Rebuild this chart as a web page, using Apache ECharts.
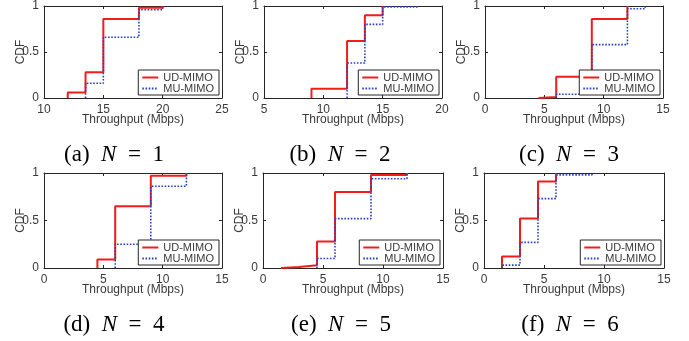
<!DOCTYPE html>
<html>
<head>
<meta charset="utf-8">
<script src="https://cdn.jsdelivr.net/npm/echarts@6/dist/echarts.min.js"></script>
<style>html,body{margin:0;padding:0;background:#fff;}#c{width:689px;height:341px;}</style>
</head>
<body>
<div id="c"></div>
<script>
// ---- data (breakpoints of the empirical CDFs) ----
const panelLabels = ['a', 'b', 'c', 'd', 'e', 'f'];
const panelN = [1, 2, 3, 4, 5, 6];
const xMins = [10, 5, 0, 0, 0, 0];
const xMaxs = [25, 20, 15, 15, 15, 15];
const xInterval = 5;
const yTicks = [0, 0.5, 1];

const udX = [
  [12, 13.5, 15, 18, 20],
  [9, 12, 13.5, 15],
  [4.5, 6, 9, 12],
  [4.5, 6, 9, 12],
  [1.5, 3, 4.5, 6, 9, 12],
  [1.5, 3, 4.5, 6]
];
const udY = [
  [0.06, 0.28, 0.86, 0.98, 1.0],
  [0.10, 0.62, 0.90, 1.0],
  [0.01, 0.23, 0.86, 1.0],
  [0.09, 0.65, 0.97, 1.0],
  [0.01, 0.03, 0.28, 0.80, 0.98, 1.0],
  [0.12, 0.52, 0.91, 1.0]
];
const muX = [
  [13.5, 15, 18, 20],
  [12, 13.5, 15, 18],
  [6, 9, 12, 13.5],
  [6, 9, 12],
  [4.5, 6, 9, 12],
  [1.5, 3, 4.5, 6, 9]
];
const muY = [
  [0.16, 0.66, 0.96, 1.0],
  [0.38, 0.80, 0.99, 1.0],
  [0.04, 0.58, 0.97, 1.0],
  [0.25, 0.86, 1.0],
  [0.10, 0.52, 0.94, 1.0],
  [0.03, 0.27, 0.73, 0.98, 1.0]
];

// ---- layout ----
const W = 689, H = 341;
const grids = [
  {left: 44, top: 3, width: 178, height: 95},
  {left: 264, top: 3, width: 178, height: 95},
  {left: 485, top: 3, width: 178, height: 95},
  {left: 44, top: 173, width: 178, height: 95},
  {left: 263, top: 173, width: 180, height: 95},
  {left: 484, top: 173, width: 180, height: 95}
];
const captionX = [114, 340, 569, 114, 341, 570];
const captionTop = [143, 143, 143, 313, 313, 313];

const AX = '#262626';
const TX = '#3a3a3a';
const RED = '#f21c1c';
const BLUE = '#2443c4';
const SANS = 'Liberation Sans, Arial, sans-serif';
const SERIF = 'Liberation Serif, Times New Roman, serif';

function stairs(xs, ys) {
  const pts = [];
  let prev = 0;
  for (let i = 0; i < xs.length; i++) {
    pts.push([xs[i], prev]);
    pts.push([xs[i], ys[i]]);
    prev = ys[i];
  }
  return pts;
}

const xAxes = [], yAxes = [], series = [], legends = [], titles = [];
grids.forEach((g, i) => {
  const common = {
    gridIndex: i,
    axisLine: {show: true, onZero: false, lineStyle: {color: AX, width: 1}},
    axisTick: {show: true, inside: true, length: 3, lineStyle: {color: AX}},
    splitLine: {show: false}
  };
  xAxes.push(Object.assign({}, common, {
    type: 'value', position: 'bottom', min: xMins[i], max: xMaxs[i], interval: xInterval,
    name: 'Throughput (Mbps)', nameLocation: 'middle', nameGap: 16, nameMoveOverlap: false,
    nameTextStyle: {fontFamily: SANS, fontSize: 12, color: TX},
    axisLabel: {show: true, margin: 6, fontFamily: SANS, fontSize: 12, color: TX}
  }));
  xAxes.push(Object.assign({}, common, {
    type: 'value', position: 'top', min: xMins[i], max: xMaxs[i], interval: xInterval,
    axisLabel: {show: false}
  }));
  yAxes.push(Object.assign({}, common, {
    type: 'value', position: 'left', min: yTicks[0], max: yTicks[yTicks.length - 1], interval: yTicks[1] - yTicks[0],
    name: 'CDF', nameLocation: 'middle', nameGap: 17, nameMoveOverlap: false,
    nameTextStyle: {fontFamily: SANS, fontSize: 12, color: TX},
    axisLabel: {show: true, margin: 5, fontFamily: SANS, fontSize: 12, color: TX}
  }));
  yAxes.push(Object.assign({}, common, {
    type: 'value', position: 'right', min: yTicks[0], max: yTicks[yTicks.length - 1], interval: yTicks[1] - yTicks[0],
    axisLabel: {show: false}
  }));
  series.push({
    name: 'UD-MIMO', type: 'line', xAxisIndex: 2 * i, yAxisIndex: 2 * i,
    data: stairs(udX[i], udY[i]), symbol: 'none', clip: false,
    lineStyle: {color: RED, width: 2}, itemStyle: {color: RED}, z: 3,
    animation: false
  });
  series.push({
    name: 'MU-MIMO', type: 'line', xAxisIndex: 2 * i, yAxisIndex: 2 * i,
    data: stairs(muX[i], muY[i]), symbol: 'none', clip: false,
    lineStyle: {color: BLUE, width: 1.6, type: [1.6, 1.6]}, itemStyle: {color: BLUE}, z: 4,
    animation: false
  });
  legends.push({
    data: ['UD-MIMO', 'MU-MIMO'],
    orient: 'vertical',
    right: W - (g.left + g.width) + 3,
    bottom: H - (g.top + g.height) + 3,
    itemWidth: 16, itemHeight: 12, itemGap: 0,
    padding: [2, 5, 1, 3],
    backgroundColor: '#fff', borderColor: AX, borderWidth: 1,
    selectedMode: false,
    itemStyle: {opacity: 0},
    textStyle: {fontFamily: SANS, fontSize: 11, color: TX},
    z: 10
  });
  titles.push({
    text: '(' + panelLabels[i] + ')  {n|N}  =  ' + panelN[i],
    left: captionX[i], top: captionTop[i], textAlign: 'center', padding: 0,
    textStyle: {
      fontFamily: SERIF, fontSize: 23, fontWeight: 'normal', color: '#000',
      rich: {n: {fontFamily: SERIF, fontSize: 23, fontStyle: 'italic', color: '#000'}}
    }
  });
});

const chart = echarts.init(document.getElementById('c'), null, {renderer: 'canvas'});
chart.setOption({
  animation: false,
  backgroundColor: '#fff',
  title: titles,
  grid: grids,
  xAxis: xAxes,
  yAxis: yAxes,
  legend: legends,
  series: series
});
</script>
</body>
</html>
